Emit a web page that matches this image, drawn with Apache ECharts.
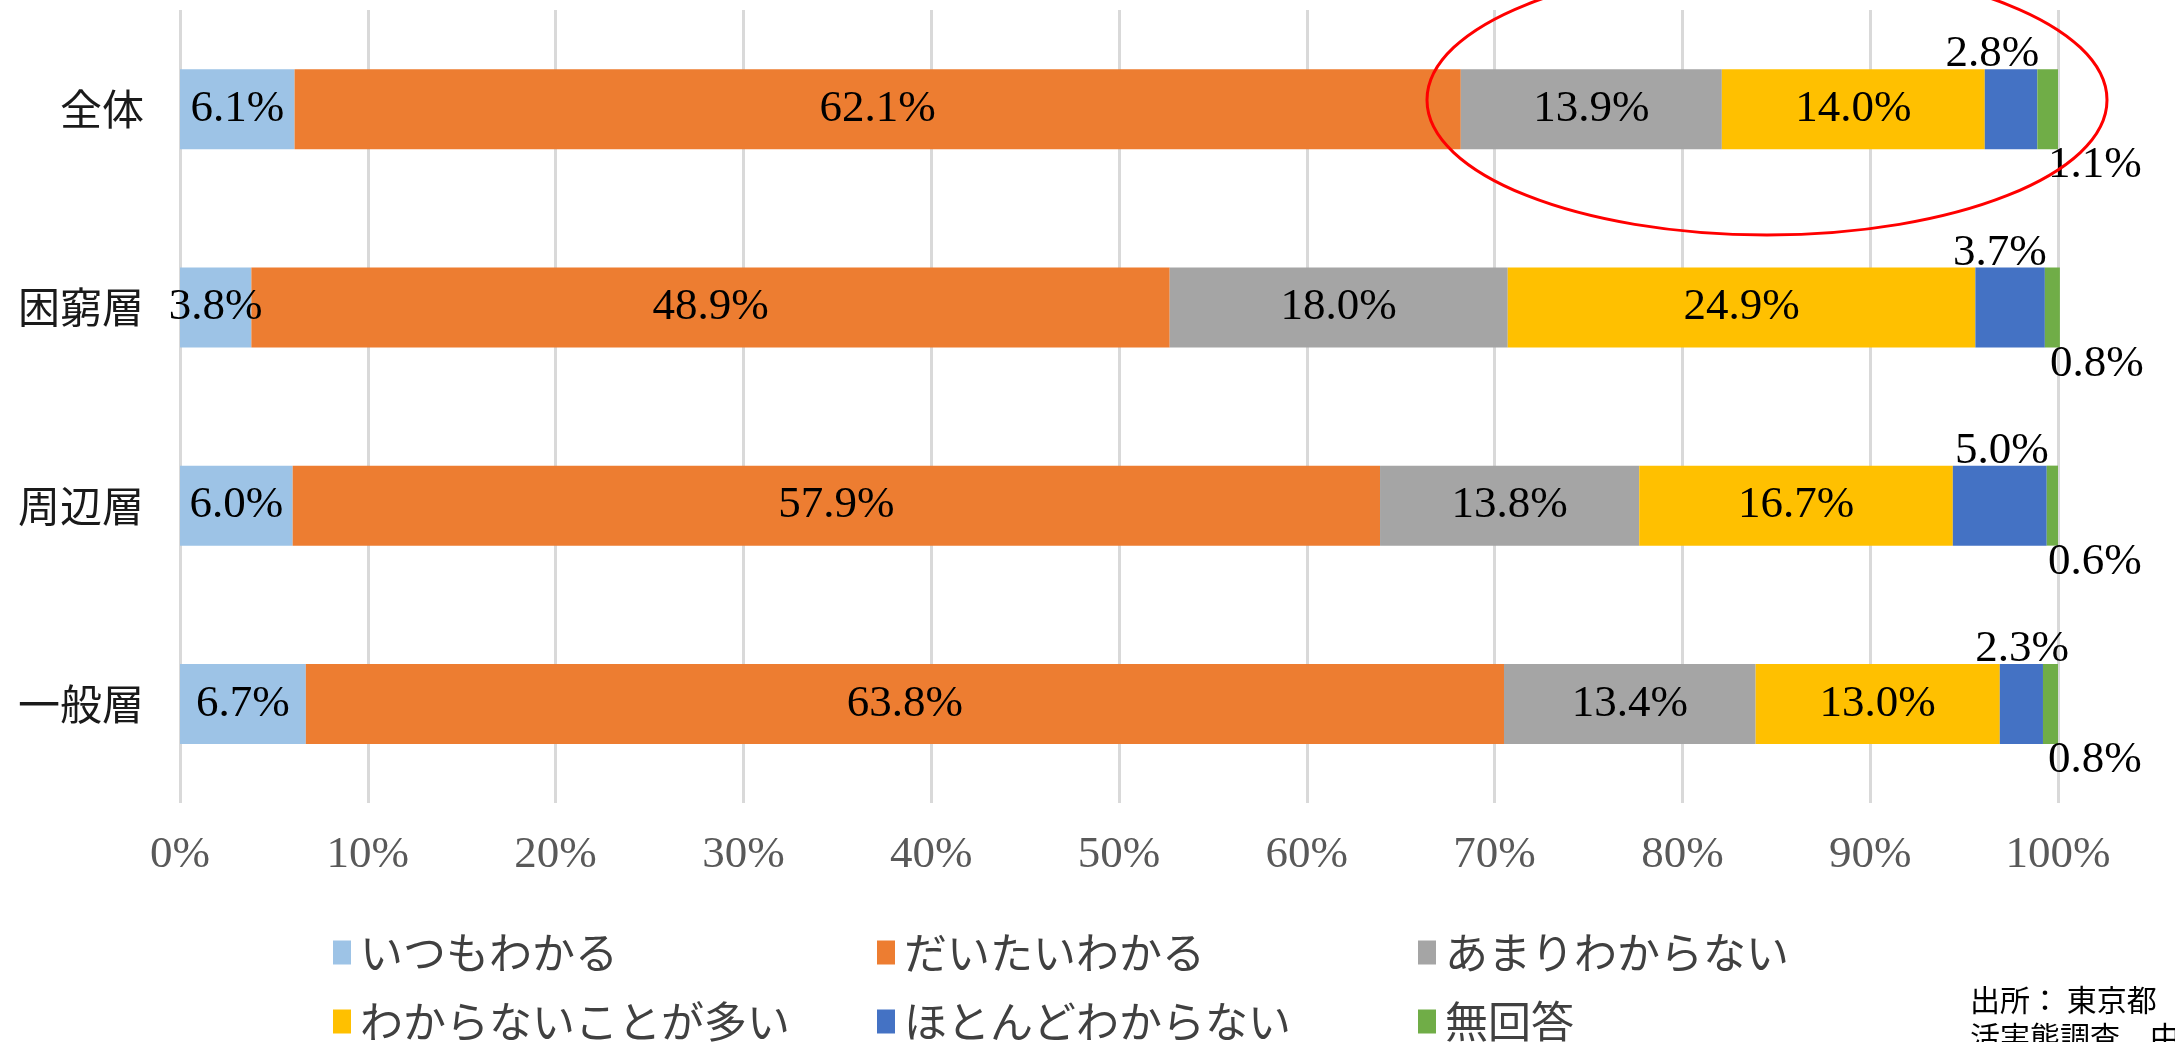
<!DOCTYPE html>
<html>
<head>
<meta charset="utf-8">
<script src="https://cdn.jsdelivr.net/npm/echarts@6/dist/echarts.min.js"></script>
<style>
  html, body { margin: 0; padding: 0; background: #fff; }
  #chart { width: 2175px; height: 1042px; }
</style>
</head>
<body>
<div id="chart"></div>
<script>
// ---- data ----
const categories = ['全体', '困窮層', '周辺層', '一般層'];
const seriesNames = ['いつもわかる', 'だいたいわかる', 'あまりわからない', 'わからないことが多い', 'ほとんどわからない', '無回答'];
const itsumoWakaru = [6.1, 3.8, 6.0, 6.7];
const daitaiWakaru = [62.1, 48.9, 57.9, 63.8];
const amariWakaranai = [13.9, 18.0, 13.8, 13.4];
const wakaranaiKotoGaOoi = [14.0, 24.9, 16.7, 13.0];
const hotondoWakaranai = [2.8, 3.7, 5.0, 2.3];
const mukaito = [1.1, 0.8, 0.6, 0.8];
const sourceLines = ['出所： 東京都', '活実態調査、中'];

const seriesValues = [itsumoWakaru, daitaiWakaru, amariWakaranai, wakaranaiKotoGaOoi, hotondoWakaranai, mukaito];
const colors = ['#9DC3E6', '#ED7D31', '#A5A5A5', '#FFC000', '#4472C4', '#70AD47'];

const serif = '"Liberation Serif", "Times New Roman", serif';
const jp = '"Noto Sans CJK JP", "Noto Sans", sans-serif';
const fmt = p => p.value.toFixed(1) + '%';

const insideLabel = {
  show: true, position: 'inside', formatter: fmt,
  fontFamily: serif, fontSize: 45, color: '#000'
};

const series = seriesValues.map((vals, i) => {
  let label = insideLabel;
  let data = vals.slice();
  if (i === 4) {
    label = {
      show: true, position: ['100%', 0], align: 'right', verticalAlign: 'bottom',
      offset: [2, 8], formatter: fmt, fontFamily: serif, fontSize: 45, color: '#000'
    };
    data = vals.map((v, k) => k === 3 ? { value: v, label: { offset: [26, 8] } } : v);
  } else if (i === 5) {
    label = {
      show: true, position: ['100%', '100%'], align: 'left', verticalAlign: 'top',
      offset: [-10, -6], formatter: fmt, fontFamily: serif, fontSize: 45, color: '#000'
    };
  }
  return {
    name: seriesNames[i], type: 'bar', stack: 'total', barWidth: 80,
    itemStyle: { color: colors[i] }, label: label, data: data, clip: false
  };
});

const legendCols = [333, 877, 1418];
const legendRows = [931, 1000];
const legends = seriesNames.map((n, i) => ({
  data: [n], left: legendCols[i % 3], top: legendRows[Math.floor(i / 3)],
  padding: 0, itemWidth: 18, itemHeight: 24, icon: 'rect',
  selectedMode: false,
  textStyle: { fontFamily: jp, fontSize: 43, color: '#404040', padding: [0, 0, 0, 4] }
}));

const chart = echarts.init(document.getElementById('chart'), null, { renderer: 'canvas' });
chart.setOption({
  animation: false,
  backgroundColor: '#fff',
  color: colors,
  grid: { left: 180, right: 117, top: 10, bottom: 239, containLabel: false },
  legend: legends,
  xAxis: {
    type: 'value', min: 0, max: 100, interval: 10,
    axisLine: { show: false }, axisTick: { show: false },
    splitLine: { show: true, lineStyle: { color: '#D9D9D9', width: 3 } },
    axisLabel: { formatter: '{value}%', fontFamily: serif, fontSize: 45, color: '#595959', margin: 30 }
  },
  yAxis: {
    type: 'category', inverse: true, data: categories,
    axisLine: { show: false }, axisTick: { show: false },
    axisLabel: { fontFamily: jp, fontSize: 42, color: '#1a1a1a', margin: 36 }
  },
  series: series,
  graphic: [
    {
      type: 'ellipse', shape: { cx: 1767, cy: 100, rx: 340, ry: 135 },
      style: { fill: null, stroke: '#FF0000', lineWidth: 3 }, z: 100
    },
    {
      type: 'text', left: 1970, top: 985,
      style: { text: sourceLines[0], font: '30px ' + jp, fill: '#000' }
    },
    {
      type: 'text', left: 1970, top: 1022,
      style: { text: sourceLines[1], font: '30px ' + jp, fill: '#000' }
    }
  ]
});
</script>
</body>
</html>
